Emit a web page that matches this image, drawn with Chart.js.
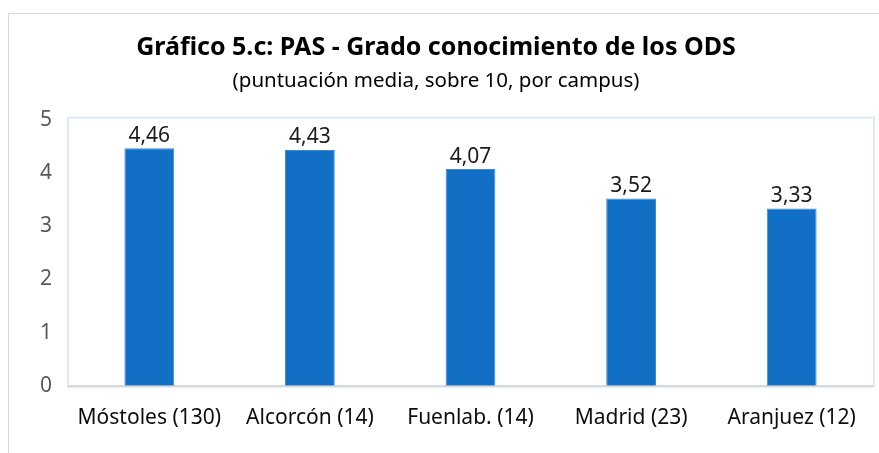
<!DOCTYPE html>
<html lang="es">
  <head>
    <meta charset="UTF-8" />
    <title>Gráfico 5.c</title>
    <script src="https://cdn.jsdelivr.net/npm/chart.js"></script>
    <style>
      html, body { margin: 0; padding: 0; background: #fff; }
      #wrap { position: relative; width: 879px; height: 453px; }
      #frame {
        position: absolute; left: 8px; top: 13px; right: -2px; bottom: -2px;
        border: 1px solid #d9d9d9;
      }
      canvas { position: absolute; left: 0; top: 0; }
    </style>
  </head>
  <body>
    <div id="wrap">
      <div id="frame"></div>
      <canvas id="chart" width="879" height="453"></canvas>
    </div>

    <script>
      const FONT = "'Noto Sans', sans-serif";

      const campus = ["Móstoles (130)", "Alcorcón (14)", "Fuenlab. (14)", "Madrid (23)", "Aranjuez (12)"];
      const puntuacion = [4.46, 4.43, 4.07, 3.52, 3.33];
      const yTicks = [0, 1, 2, 3, 4, 5];

      // etiquetas de valor encima de cada barra
      const valueLabels = {
        id: "valueLabels",
        afterDatasetsDraw(chart) {
          const ctx = chart.ctx;
          const meta = chart.getDatasetMeta(0);
          ctx.save();
          ctx.font = "21px " + FONT;
          ctx.fillStyle = "#1a1a1a";
          ctx.textAlign = "center";
          ctx.textBaseline = "bottom";
          meta.data.forEach((bar, i) => {
            ctx.fillText(puntuacion[i].toFixed(2).replace(".", ","), bar.x, bar.y - 2);
          });
          ctx.restore();
        },
      };

      // borde del área de trazado
      const plotBorder = {
        id: "plotBorder",
        beforeDraw(chart) {
          const { ctx, chartArea: a } = chart;
          ctx.save();
          ctx.strokeStyle = "#deebf7";
          ctx.lineWidth = 2;
          ctx.strokeRect(a.left - 1, a.top - 2, a.right - a.left + 3, a.bottom - a.top + 3);
          ctx.restore();
        },
      };

      const ctx = document.getElementById("chart").getContext("2d");
      new Chart(ctx, {
        type: "bar",
        data: {
          labels: campus,
          datasets: [
            {
              data: puntuacion,
              backgroundColor: "#116fc6",
              borderColor: "#3f8ad4",
              borderWidth: 1,
              barPercentage: 0.62,
              categoryPercentage: 0.5,
            },
          ],
        },
        plugins: [valueLabels, plotBorder],
        options: {
          responsive: false,
          animation: false,
          layout: { padding: { top: 20, right: 7, bottom: 2, left: 0 } },
          plugins: {
            legend: { display: false },
            tooltip: { enabled: false },
            title: {
              display: true,
              text: "Gráfico 5.c: PAS - Grado conocimiento de los ODS",
              color: "#000",
              font: { family: FONT, size: 25, weight: "bold" },
              padding: { top: 13, bottom: 6 },
            },
            subtitle: {
              display: true,
              text: "(puntuación media, sobre 10, por campus)",
              color: "#000",
              font: { family: FONT, size: 20.5 },
              padding: { top: 0, bottom: 26 },
            },
          },
          scales: {
            x: {
              grid: { display: false, drawTicks: false },
              border: { display: true, color: "#d9d9d9", width: 2 },
              ticks: {
                color: "#0d0d0d",
                font: { family: FONT, size: 21 },
                padding: 20,
              },
            },
            y: {
              min: 0,
              max: 5,
              grid: { display: false, drawTicks: false },
              border: { display: false },
              afterFit(scale) { scale.width = 69; },
              afterBuildTicks(scale) { scale.ticks = yTicks.map((v) => ({ value: v })); },
              ticks: {
                color: "#595959",
                font: { family: FONT, size: 21 },
                padding: 17,
              },
            },
          },
        },
      });
    </script>
  </body>
</html>
